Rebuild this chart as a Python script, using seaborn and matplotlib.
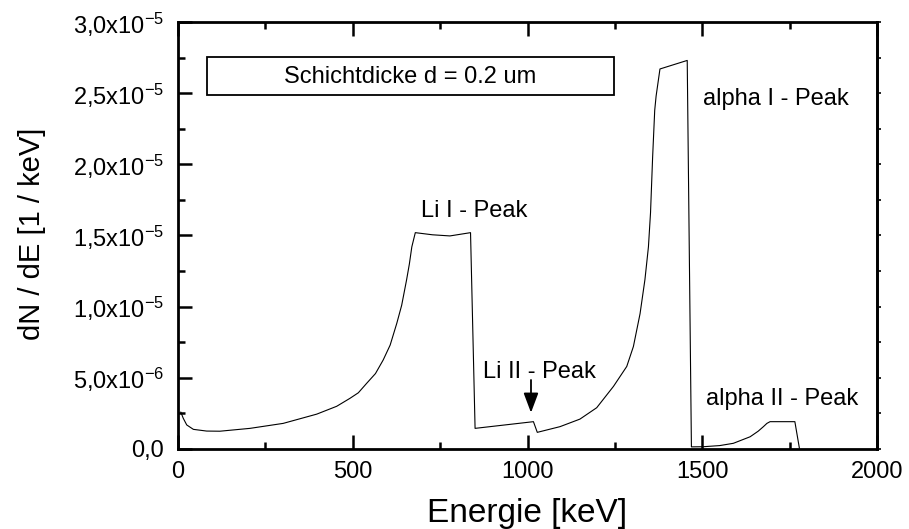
import numpy as np
import pandas as pd
import matplotlib
matplotlib.use("Agg")
import matplotlib.pyplot as plt
import seaborn as sns
from matplotlib.ticker import MultipleLocator
from matplotlib.patches import Rectangle

# ---------------- data ----------------
energy = [8, 15, 25, 44, 82, 120, 206, 301, 397, 454, 492, 516, 540, 565, 587,
          607, 626, 640, 654, 662, 669, 679, 728, 778, 837, 850, 1017, 1028,
          1093, 1150, 1198, 1246, 1284, 1303, 1322, 1336, 1346, 1352, 1358,
          1364, 1368, 1379, 1457, 1469, 1503, 1550, 1589, 1637, 1660, 1675,
          1685, 1694, 1765, 1778]
dnde_e6 = [2.6, 2.16, 1.69, 1.38, 1.26, 1.25, 1.45, 1.8, 2.45, 3.0, 3.56, 3.95,
           4.62, 5.3, 6.25, 7.3, 8.83, 10.1, 11.88, 13.0, 14.2, 15.2, 15.05,
           14.97, 15.2, 1.45, 1.92, 1.17, 1.57, 2.1, 2.9, 4.4, 5.8, 7.2, 9.5,
           11.9, 14.2, 16.6, 20.5, 23.8, 24.8, 26.7, 27.3, 0.15, 0.16, 0.24,
           0.4, 0.86, 1.25, 1.57, 1.8, 1.92, 1.92, 0.05]

xtick_values = [0, 500, 1000, 1500, 2000]
xtick_labels = ["0", "500", "1000", "1500", "2000"]
ytick_values = [0, 5e-6, 1e-5, 1.5e-5, 2e-5, 2.5e-5, 3e-5]
ytick_labels = ["0,0", "5,0x10$^{-6}$", "1,0x10$^{-5}$", "1,5x10$^{-5}$",
                "2,0x10$^{-5}$", "2,5x10$^{-5}$", "3,0x10$^{-5}$"]

peak_labels = ["Li I - Peak", "Li II - Peak", "alpha I - Peak", "alpha II - Peak"]
peak_x = [694, 872, 1501, 1511]
peak_y_e6 = [16.3, 5.0, 24.16, 3.07]

arrow_x = 1010
arrow_from_e6 = 4.85
arrow_to_e6 = 2.55

box_text = "Schichtdicke d = 0.2 um"
x_label = "Energie [keV]"
y_label = "dN / dE [1 / keV]"

# ---------------- style ----------------
sns.set_style("white")
plt.rcParams["font.family"] = ["Liberation Sans", "DejaVu Sans"]
plt.rcParams["mathtext.fontset"] = "custom"
plt.rcParams["mathtext.rm"] = "Liberation Sans"
plt.rcParams["mathtext.it"] = "Liberation Sans:italic"
plt.rcParams["mathtext.bf"] = "Liberation Sans:bold"
plt.rcParams["mathtext.default"] = "regular"

fig = plt.figure(figsize=(9.09, 5.29), dpi=100)
ax = fig.add_axes([178 / 909, 1 - 449 / 529, 699 / 909, 427 / 529])

df = pd.DataFrame({"E": energy, "dNdE": np.array(dnde_e6) * 1e-6})
sns.lineplot(data=df, x="E", y="dNdE", sort=False, estimator=None,
             color="black", linewidth=0.8, ax=ax)

ax.set_xlim(0, 2000)
ax.set_ylim(0, 3e-5)
ax.set_xticks(xtick_values, xtick_labels)
ax.set_yticks(ytick_values, ytick_labels)
ax.xaxis.set_minor_locator(MultipleLocator(250))
ax.yaxis.set_minor_locator(MultipleLocator(2.5e-6))

ax.tick_params(which="both", direction="in", top=True, right=False,
               left=True, bottom=True, width=1.8, color="black",
               labelsize=17, labelcolor="black")
ax.tick_params(which="major", length=10)
ax.tick_params(which="minor", length=5)
ax.tick_params(axis="y", pad=10)
ax.tick_params(axis="x", pad=9)

for s in ax.spines.values():
    s.set_linewidth(2.0)
    s.set_color("black")
    s.set_visible(True)

# small outward ticks on right spine
sec = ax.secondary_yaxis("right")
sec.set_yticks(ytick_values, [""] * len(ytick_values))
sec.yaxis.set_minor_locator(MultipleLocator(2.5e-6))
sec.tick_params(which="both", direction="out", length=3, width=1.2, color="black")
sec.spines["right"].set_linewidth(2.0)

ax.set_xlabel(x_label, fontsize=24, color="black")
ax.set_ylabel(y_label, fontsize=21, color="black")
ax.xaxis.set_label_coords(0.5, -0.115)
ax.yaxis.set_label_coords(-0.189, 0.505)

# peak annotations
for lab, px, py in zip(peak_labels, peak_x, peak_y_e6):
    ax.text(px, py * 1e-6, lab, fontsize=17, ha="left", va="baseline", color="black")

ax.annotate("", xy=(arrow_x, arrow_to_e6 * 1e-6), xytext=(arrow_x, arrow_from_e6 * 1e-6),
            arrowprops=dict(arrowstyle="-|>,head_length=0.8,head_width=0.3",
                            color="black", lw=1.3, mutation_scale=15,
                            shrinkA=0, shrinkB=0))

# text box
bx0 = (207 - 178) / 699
by0 = (449 - 94.7) / 427
bw = (614 - 207) / 699
bh = 38 / 427
ax.add_patch(Rectangle((bx0, by0), bw, bh, transform=ax.transAxes,
                       fill=False, edgecolor="black", linewidth=1.3))
ax.text(bx0 + bw / 2, (449 - 83) / 427, box_text, transform=ax.transAxes,
        fontsize=17, ha="center", va="baseline", color="black")

fig.savefig("out.png", dpi=100)
